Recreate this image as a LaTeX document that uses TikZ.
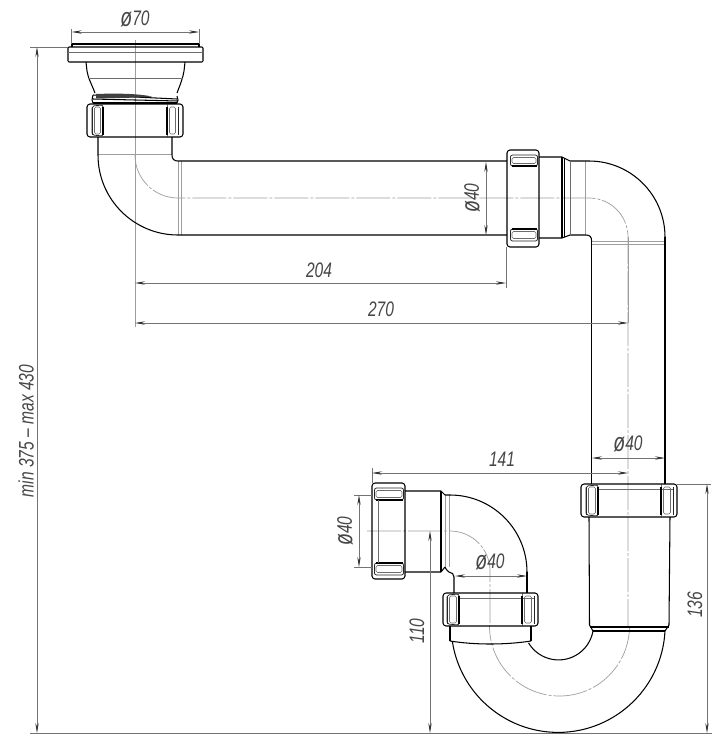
\documentclass[tikz,border=0pt]{standalone}
\usepackage{fontspec}
\usetikzlibrary{arrows.meta}
\newfontfamily\dimf[FakeStretch=0.74]{Liberation Sans Italic}
\definecolor{dimc}{gray}{0.45}
\definecolor{thinc}{gray}{0.62}
\definecolor{txtc}{gray}{0.28}
\newcommand\dia{\raisebox{-0.02em}{\scalebox{1.25}{ø}}}
\tikzset{
 outline/.style={line width=1.05pt,black,line join=round},
 pk/.style={line width=0.75pt,black!85,line join=round},
 thinl/.style={line width=0.55pt,thinc},
 inset/.style={line width=0.55pt,gray!85!black},
 axisl/.style={line width=0.7pt,thinc,dash pattern=on 34pt off 2pt on 3pt off 2pt},
 dimline/.style={line width=0.75pt,dimc},
 dimarrow/.style={dimline,{Stealth[length=10pt,width=3.4pt,black!80]}-{Stealth[length=10pt,width=3.4pt,black!80]}},
 dimtxt/.style={text=txtc,font=\dimf\fontsize{21}{21}\selectfont,inner sep=0pt}
}
% pocket in a vertical-axis nut: x0 x1 y0 y1, then the x of its heavy inner edge
\newcommand\pocketV[5]{%
 \draw[pk,fill=white,rounded corners=2pt] (#1,{#3+1})--(#5,#3)--(#5,#4)--(#1,{#4-1})--cycle;
 \draw[inset,rounded corners=1.5pt] ({#1+2.5},{#3+2})--({#2-2.5},{#3+2})--({#2-2.5},{#4-2})--({#1+2.5},{#4-2})--cycle;
 \draw[pk,rounded corners=2pt] (#1,{#3+1.5})--(#1,{#4-1.5});
 \draw[pk,rounded corners=2pt] (#2,{#3+1.5})--(#2,{#4-1.5});
 \draw[outline,line width=1.4pt] (#5,{#3+2})--(#5,{#4-1});
}
% pocket in a horizontal-axis nut: x0 x1 y0 y1, then the y of its heavy inner edge
\newcommand\pocketH[5]{%
 \draw[pk,fill=white,rounded corners=2pt] ({#1+0.5},#3) rectangle ({#2-0.5},#4);
 \draw[inset,rounded corners=1.5pt] ({#1+2},{#3+2.5})--({#2-2},{#3+2.5})--({#2-2},{#4-2.5})--({#1+2},{#4-2.5})--cycle;
 \draw[outline,line width=1.4pt] ({#1+2},#5)--({#2-1},#5);
}
\begin{document}
\begin{tikzpicture}[x=1pt,y=-1pt]
\useasboundingbox (0,0) rectangle (724,748);
\fill[white] (0,0) rectangle (724,748);

% ---------- thin and axis lines ----------
\draw[thinl] (135,40)--(135,327);
\draw[thinl] (98,154)--(172,154);
\draw[thinl] (178,161)--(178,235) (181,161)--(181,235);
\draw[axisl] (135,155) arc[start angle=180,end angle=90,radius=43] -- (589,198) arc[start angle=270,end angle=360,radius=39] -- (628,626);
\draw[thinl] (628,237)--(628,323);
\draw[axisl] (629.5,626) arc[start angle=0,end angle=180,radius=70];
\draw[axisl] (367,531)--(450,531) arc[start angle=270,end angle=360,radius=40] -- (490,626);
\draw[thinl] (445,495)--(445,567) (449,495)--(449,567);
\draw[thinl] (585,161)--(585,235);
\draw[thinl] (592,241)--(665,241) (592,244)--(665,244);

% ---------- upper drain: flange and body ----------
\draw[outline] (72,47)--(72,44)--(199,44)--(199,47);
\draw[outline,rounded corners=1pt] (68,47) rectangle (203,62);
\draw[inset] (68,52)--(203,52);
\draw[outline] (86,62)--(87,71) .. controls (88,78) and (92,85) .. (95,93);
\draw[outline] (185,62)--(184,71) .. controls (183,78) and (180,85) .. (177,93);
\draw[inset] (88,78)--(183,78);
\draw[outline] (93,95)--(177,99);
\draw[outline] (93,99)--(178,101);
\fill[black!75] (96,94) .. controls (120,93) and (140,94) .. (152,96.5) .. controls (135,98) and (115,98) .. (96,98.5) -- cycle;
\draw[outline] (93,103)--(177,103);
\draw[outline] (93,95)--(92,100)--(93,103) (177,96)--(178,100)--(177,103);

% upper nut
\draw[outline,rounded corners=3pt] (87,104) rectangle (183,137);
\pocketV{92}{103}{105}{136}{103}
\pocketV{167}{178}{105}{136}{167}

% upper elbow and horizontal tube
\draw[outline] (98,137)--(98,155) arc[start angle=180,end angle=90,radius=80] -- (507,235);
\draw[outline] (172,137)--(172,155) .. controls (172,159) and (174,161) .. (178,161) -- (507,161);

% horizontal-axis nut at the right end of the tube
\draw[outline,rounded corners=3pt] (507,150) rectangle (539,247);
\pocketH{510}{538}{155}{166}{166}
\pocketH{510}{538}{229}{241}{229}
\draw[outline] (539,157)--(562,157)--(570,161)--(589,161);
\draw[outline] (539,238)--(562,238)--(570,235)--(586,235) .. controls (590,235) and (591.6,237) .. (591.6,241);
\draw[outline] (562,157)--(562,238) (564.5,158)--(564.5,237);
\draw[inset] (570,161)--(570,235);
\draw[outline] (589,161) arc[start angle=270,end angle=360,radius=76];
\draw[outline] (665,237)--(665,484);
\draw[outline] (591.6,241)--(591.6,484);

% right nut and sleeve
\draw[outline,rounded corners=3pt] (581,484) rectangle (677,517);
\draw[inset] (586,489)--(673,489);
\pocketV{586}{598}{485}{516}{598}
\pocketV{661}{673}{485}{516}{661}
\draw[outline] (589,517)--(589.5,625) (670,517)--(669,625);
\draw[outline] (589.5,625)--(593,631) (669,625)--(665,631);
\draw[outline] (590,627)--(669,627);
\draw[outline] (593,631)--(665,631);

% U-trap
\draw[outline] (665,631) arc[start angle=3,end angle=171,radius=107];
\draw[outline] (593,631) arc[start angle=10,end angle=149,radius=35];

% left lower sleeve and nut
\draw[outline] (450,626)--(450,641) (531,626)--(531,641);
\draw[outline] (450,641) .. controls (475,645) and (505,645) .. (531,641);
\draw[outline,rounded corners=3pt] (443,593) rectangle (538,626);
\draw[inset] (447,598)--(534,598);
\pocketV{447}{459}{594}{625}{459}
\pocketV{522}{534}{594}{625}{522}

% upper part of the small elbow
\draw[outline] (450,495) arc[start angle=270,end angle=360,radius=77];
\draw[outline] (527,572)--(527,593);
\draw[outline] (454,593)--(454,577) .. controls (454,574) and (452,572.5) .. (449,572) .. controls (447,571) and (446,569) .. (445,567);
\draw[outline] (405,491)--(441,491)--(445,495)--(450,495);
\draw[outline] (405,572)--(441,572)--(445,567);
\draw[outline] (441,491)--(441,572);
\draw[outline,rounded corners=3pt] (372,483) rectangle (405,579);
\pocketH{374}{404}{488}{500}{500}
\pocketH{374}{404}{563}{575}{563}
\draw[inset] (378,500)--(378,563);

% ---------- dimensions ----------
\coordinate (o1) at (37,47); \coordinate (o2) at (37,733);
\draw[dimline] (30,47)--(68,47);
\draw[dimline] (30,733)--(712,733);
\draw[dimarrow] (o1)--(o2);
\node[dimtxt,rotate=90] (tMin) at (26,431) {min 375 – max 430};

\draw[dimline] (71.7,29)--(71.7,44) (199,29)--(199,44);
\draw[dimarrow] (71.7,32)--(199,32);
\node[dimtxt] (t70) at (135,19) {\dia70};

\draw[dimline] (506,247)--(506,288);
\draw[dimarrow] (135,283)--(506,283);
\node[dimtxt] (t204) at (319,270) {204};
\draw[dimarrow] (135,323)--(628,323);
\node[dimtxt] (t270) at (381,309) {270};

\draw[dimarrow] (486,162)--(486,235);
\node[dimtxt,rotate=90] (t40a) at (472,198) {\dia40};

\draw[dimarrow] (592,458)--(665,458);
\node[dimtxt] (t40b) at (628,444) {\dia40};

\draw[dimline] (372,468)--(372,483);
\draw[dimarrow] (372,473)--(628,473);
\node[dimtxt] (t141) at (502,459) {141};

\draw[dimline] (354,495)--(372,495) (354,567)--(372,567);
\draw[dimarrow] (359,495)--(359,567);
\node[dimtxt,rotate=90] (t40c) at (345,531) {\dia40};

\draw[dimarrow] (455,576)--(527,576);
\node[dimtxt] (t40d) at (490,562) {\dia40};

\draw[dimarrow] (430,531)--(430,733);
\node[dimtxt,rotate=90] (t110) at (417,631) {110};

\draw[dimline] (677,484)--(711,484);
\draw[dimarrow] (707,484)--(707,733);
\node[dimtxt,rotate=90] (t136) at (695,605) {136};
\end{tikzpicture}
\end{document}
